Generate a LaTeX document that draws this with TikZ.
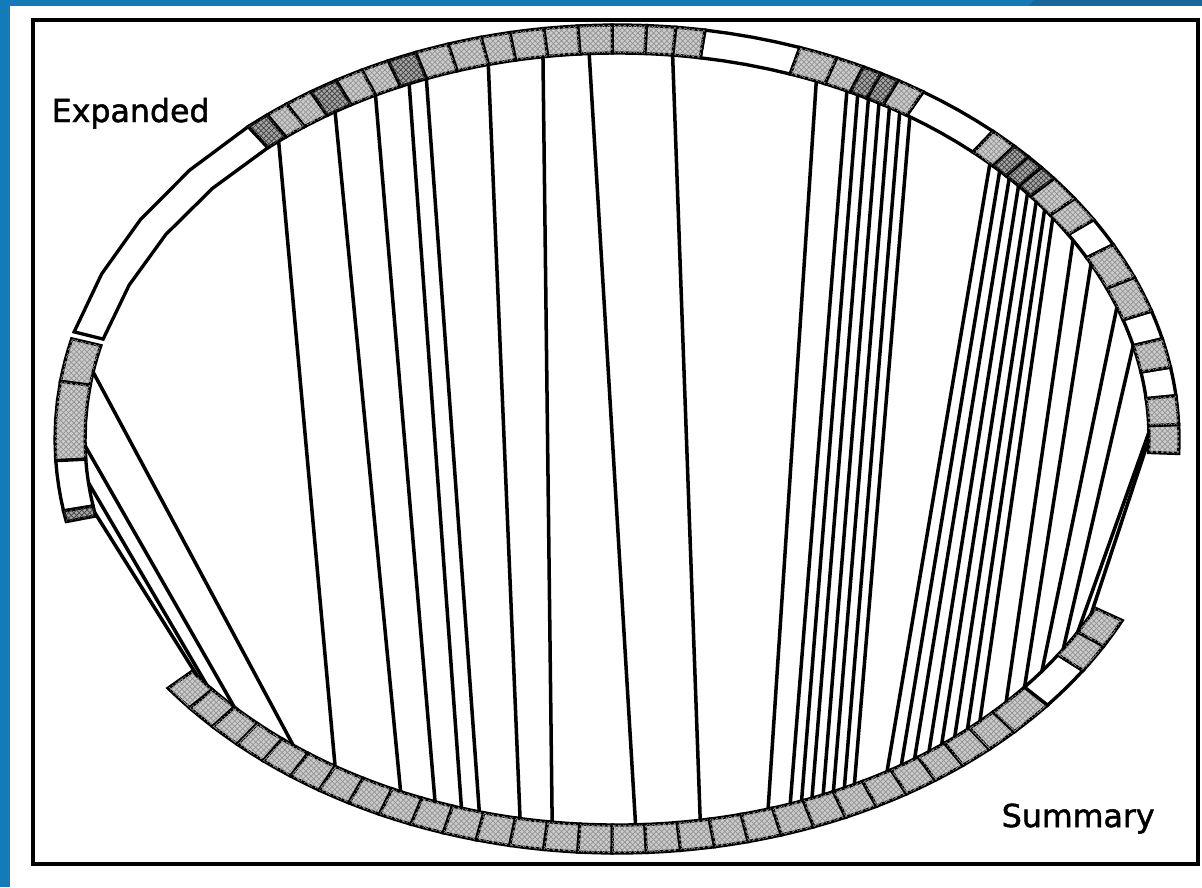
\documentclass[tikz,border=0pt]{standalone}
\usepackage{fontspec}
\newfontfamily\uifont[FakeBold=1.5]{DejaVu Sans}
\usetikzlibrary{patterns}

% one cell of the ring, between two angles (outer ellipse, then back along the inner one)
\newcommand{\ringcell}[3]{%
  \draw[#3] plot[variable=\t,domain=#1:#2,samples=5] ({617+562*cos(\t)},{439-414*sin(\t)})
    -- plot[variable=\t,domain=#2:#1,samples=5] ({617+532*cos(\t)},{439-386*sin(\t)}) -- cycle;}

\begin{document}
\begin{tikzpicture}[x=0.02cm,y=-0.02cm,line width=2pt,
  cell/.style={line width=1.9pt,fill=white},
  shaded/.style={cell,fill=gray!40,postaction={pattern=crosshatch,pattern color=gray!85}},
  darkcell/.style={cell,fill=gray!70,postaction={pattern=crosshatch,pattern color=black!75}},
  lbl/.style={inner sep=0pt,font=\uifont\fontsize{18}{20}\selectfont}]
  \colorlet{page}{white}
  \definecolor{edgeblue}{RGB}{18,123,184}
  \definecolor{edgedark}{RGB}{20,104,158}
  \useasboundingbox (0,0) rectangle (1202,887);
  % scanned page on blue
  \fill[edgeblue] (0,0) rectangle (1202,887);
  \fill[edgedark] (1035,0) -- (1202,0) -- (1202,6) -- (1028,6) -- cycle;
  \fill[page] (10,6) rectangle (1202,887);
  \draw[line width=1.8pt] (33,20) rectangle (1198,864);
  % upper arc
  \foreach \a/\b in {131/165, 71/81, 48/57, 28/32, 14/18, 6/10}
    {\ringcell{\a}{\b}{cell}}
  \foreach \a/\b in {-2/2, 2/6, 10/14, 18/23, 23/28, 32/35.5, 35.5/39, 45/48, 57/60, 64/67,
                     67/71, 81/84, 84/87, 87/90.5, 90.5/94, 94/97.5, 97.5/101, 101/104,
                     104/107.5, 107.5/111, 114/117, 117/120, 123/126, 126/128.5}
    {\ringcell{\a}{\b}{shaded}}
  \foreach \a/\b in {39/41, 41/43, 43/45, 60/62, 62/64, 111/114, 120/123, 128.5/131}
    {\ringcell{\a}{\b}{darkcell}}
  % short stack on the left
  \ringcell{166}{172}{shaded}
  \ringcell{172}{183}{shaded}
  \ringcell{183}{190}{cell}
  \ringcell{190}{191.5}{darkcell}
  % lower arc
  \foreach \a in {217,220.5,...,313.5}
    {\ringcell{\a}{\a+3.5}{shaded}}
  \ringcell{315}{320}{shaded}
  \ringcell{320}{326}{cell}
  \ringcell{326}{330}{shaded}
  \ringcell{330}{334}{shaded}
  % links from the expanded arc to the summary arc
  \foreach \ta/\ba [count=\i] in {170/232.5, 181/224, 186.5/219.5, 191/218,
      129.5/238, 122/246, 117/250, 113/253, 111/255, 104/259.5, 98/263, 93/272, 84/279, 68/286.5,
      64.4/289, 63.1/290.3, 61.8/291.5, 60.5/292.8, 59.2/294, 57.9/295.3, 56.6/296.5,
      45.5/300.5, 44/302.3, 42.5/304, 41/305.9, 39.5/307.6, 38/309.4, 36.5/311.2, 35/313,
      31/317, 27/320, 20/323, 14/327, 1/330, 0/333}
  {
    \coordinate (top\i) at ({617+532*cos(\ta)},{439-386*sin(\ta)});
    \coordinate (bot\i) at ({617+532*cos(\ba)},{439-386*sin(\ba)});
    \draw (top\i) -- (bot\i);
  }
  % labels
  \node[lbl,anchor=base west] (expanded) at (50,122) {Expanded};
  \node[lbl,anchor=base west] (summary) at (1000,827) {Summary};
\end{tikzpicture}
\end{document}
